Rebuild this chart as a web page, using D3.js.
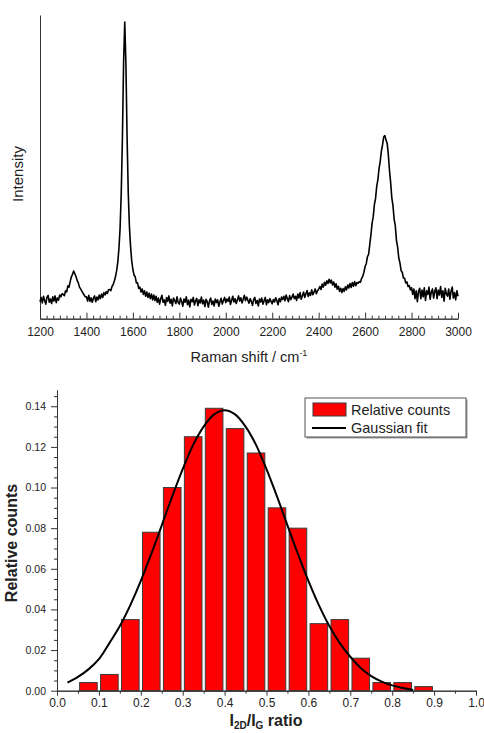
<!DOCTYPE html>
<html>
<head>
<meta charset="utf-8">
<title>Raman spectrum and I2D/IG histogram</title>
<script src="https://d3js.org/d3.v7.min.js" charset="utf-8"></script>
<style>
  body { margin: 0; background: #fff; }
  svg { display: block; font-family: "Liberation Sans", Arial, sans-serif; }
</style>
</head>
<body>
<svg id="chart" width="484" height="733"></svg>
<script type="text/javascript">
// Raman spectrum, one value every 5 cm-1 from 1200 to 3000 (arb. units)
var shiftStart = 1200;
var shiftStep = 5;
var intensity = [
  56, 70, 52, 74, 60, 48, 71, 77, 54, 65, 50, 72, 58, 75, 53, 68, 61, 78, 72, 82,
  80, 76, 92, 88, 108, 104, 122, 138, 146, 157, 148, 139, 126, 118, 104, 98, 91, 84, 78, 72,
  72, 58, 77, 57, 69, 54, 67, 75, 56, 71, 62, 78, 66, 81, 70, 86, 78, 89, 83, 95,
  96, 92, 106, 112, 124, 138, 158, 186, 232, 300, 418, 600, 845, 977, 836, 598, 416, 304, 238, 190,
  162, 144, 138, 118, 118, 100, 104, 88, 98, 80, 92, 74, 88, 70, 84, 66, 81, 62, 78, 60,
  74, 54, 68, 48, 66, 77, 54, 62, 44, 70, 57, 75, 51, 64, 42, 68, 60, 50, 72, 53,
  48, 68, 57, 41, 65, 54, 72, 46, 61, 39, 64, 56, 70, 45, 59, 67, 43, 62, 52, 71,
  49, 61, 40, 64, 56, 38, 59, 68, 47, 58, 42, 65, 53, 62, 41, 56, 67, 48, 60, 70,
  53, 65, 57, 71, 47, 60, 74, 55, 66, 50, 62, 75, 58, 69, 52, 64, 77, 59, 71, 61,
  51, 66, 57, 44, 63, 70, 50, 60, 42, 65, 55, 68, 48, 59, 70, 46, 62, 53, 66, 57,
  49, 63, 55, 69, 60, 46, 66, 56, 71, 63, 74, 59, 78, 66, 56, 76, 63, 71, 81, 66,
  74, 60, 81, 68, 86, 64, 76, 88, 70, 82, 93, 73, 85, 77, 95, 79, 88, 98, 82, 92,
  97, 106, 96, 114, 104, 120, 110, 125, 116, 130, 118, 127, 111, 121, 104, 115, 97, 107, 90, 100,
  86, 99, 90, 105, 95, 111, 101, 116, 103, 119, 107, 122, 109, 119, 117, 122, 120, 133, 140, 153,
  172, 181, 204, 212, 244, 276, 314, 336, 376, 396, 436, 458, 494, 518, 552, 572, 598, 603, 588, 578,
  540, 488, 448, 398, 372, 328, 306, 258, 236, 200, 184, 158, 153, 134, 133, 118, 121, 106, 109, 95,
  102, 80, 98, 66, 92, 56, 90, 100, 66, 94, 72, 102, 60, 92, 80, 104, 64, 88, 98, 68,
  90, 102, 66, 94, 78, 106, 70, 92, 58, 100, 82, 74, 98, 64, 90, 104, 68, 86, 62, 92,
  74
];
var shiftTicks = [1200, 1400, 1600, 1800, 2000, 2200, 2400, 2600, 2800, 3000];

// histogram of I2D/IG ratio
var binCenters = [0.075, 0.125, 0.175, 0.225, 0.275, 0.325, 0.375, 0.425, 0.475, 0.525, 0.575, 0.625, 0.675, 0.725, 0.775, 0.825, 0.875];
var relCounts = [0.004, 0.008, 0.035, 0.078, 0.100, 0.125, 0.139, 0.129, 0.117, 0.090, 0.080, 0.033, 0.035, 0.016, 0.004, 0.004, 0.002];

// gaussian fit
var fitX = [0.025, 0.05, 0.075, 0.1, 0.125, 0.15, 0.175, 0.2, 0.225, 0.25, 0.275, 0.3, 0.325, 0.35, 0.375, 0.4, 0.425,
            0.45, 0.475, 0.5, 0.525, 0.55, 0.575, 0.6, 0.625, 0.65, 0.675, 0.7, 0.725, 0.75, 0.775, 0.8, 0.825, 0.85];
var fitY = [0.0040, 0.0068, 0.0105, 0.0155, 0.0234, 0.0318, 0.0421, 0.0540, 0.0673, 0.0814, 0.0956, 0.1090, 0.1210, 0.1300, 0.1360, 0.1380, 0.1360,
            0.1300, 0.1210, 0.1090, 0.0956, 0.0814, 0.0673, 0.0540, 0.0421, 0.0318, 0.0234, 0.0167, 0.0112, 0.0072, 0.0045, 0.0026, 0.0013, 0.0004];

var ratioTicks = [0, 0.1, 0.2, 0.3, 0.4, 0.5, 0.6, 0.7, 0.8, 0.9, 1.0];
var countTicks = [0, 0.02, 0.04, 0.06, 0.08, 0.10, 0.12, 0.14];

var svg = d3.select('#chart');

function styleAxis(g, size) {
  g.attr('font-family', '"Liberation Sans", Arial, sans-serif').attr('font-size', size);
  g.selectAll('path, line').attr('stroke', '#333').attr('stroke-width', 1);
  g.selectAll('text').attr('fill', '#222');
}

// ---------------- top: spectrum
var x1 = d3.scaleLinear().domain([1200, 3000]).range([40, 458]);
var y1 = d3.scaleLinear().domain([0, 1000]).range([318.7, 15]);

var minorShift = [];
for (var i = 1; i < 63; i++) {
  if (i % 7 != 0) minorShift.push(1200 + i * 200 / 7);
}

svg.append('g').attr('transform', 'translate(0,318.7)')
  .call(d3.axisBottom(x1).tickValues(minorShift).tickSize(-3).tickSizeOuter(0).tickFormat(''))
  .call(styleAxis, 12);
svg.append('g').attr('transform', 'translate(0,318.7)')
  .call(d3.axisBottom(x1).tickValues(shiftTicks).tickSize(-6).tickSizeOuter(0).tickPadding(9).tickFormat(d3.format('d')))
  .call(styleAxis, 12);
svg.append('g').attr('transform', 'translate(40,0)')
  .call(d3.axisLeft(y1).tickValues([]).tickSizeOuter(0))
  .call(styleAxis, 12);

var line1 = d3.line()
  .x(function(d, i) { return x1(shiftStart + i * shiftStep); })
  .y(function(d) { return y1(d); });

svg.append('path').datum(intensity)
  .attr('d', line1)
  .attr('fill', 'none')
  .attr('stroke', '#000')
  .attr('stroke-width', 1.6)
  .attr('stroke-linejoin', 'round');

var xl1 = svg.append('text').attr('x', 249).attr('y', 361.5)
  .attr('text-anchor', 'middle').attr('font-size', 14.5).attr('fill', '#222');
xl1.append('tspan').text('Raman shift / cm');
xl1.append('tspan').attr('font-size', 9).attr('dy', -6).text('-1');

svg.append('text').attr('transform', 'translate(23,174) rotate(-90)')
  .attr('text-anchor', 'middle').attr('font-size', 15).attr('fill', '#222')
  .text('Intensity');

// ---------------- bottom: histogram
var x2 = d3.scaleLinear().domain([0, 1]).range([57, 476]);
var y2 = d3.scaleLinear().domain([0, 0.148]).range([690.7, 390]);
var barHalf = 0.021;

svg.append('g').selectAll('rect').data(relCounts).enter().append('rect')
  .attr('x', function(d, i) { return x2(binCenters[i] - barHalf); })
  .attr('width', function(d, i) { return x2(binCenters[i] + barHalf) - x2(binCenters[i] - barHalf); })
  .attr('y', function(d) { return y2(d); })
  .attr('height', function(d) { return y2(0) - y2(d); })
  .attr('fill', '#ff0000')
  .attr('stroke', '#3a3a3a')
  .attr('stroke-width', 1);

var minorRatio = d3.range(0.05, 1, 0.1);
var minorCount = [];
for (var j = 1; j < 30; j++) {
  if (j % 4 != 0) minorCount.push(j * 0.005);
}

svg.append('g').attr('transform', 'translate(0,690.7)')
  .call(d3.axisBottom(x2).tickValues(minorRatio).tickSize(3).tickSizeOuter(0).tickFormat(''))
  .call(styleAxis, 12);
svg.append('g').attr('transform', 'translate(0,690.7)')
  .call(d3.axisBottom(x2).tickValues(ratioTicks).tickSize(5).tickSizeOuter(0).tickPadding(3).tickFormat(d3.format('.1f')))
  .call(styleAxis, 12);
svg.append('g').attr('transform', 'translate(57,0)')
  .call(d3.axisLeft(y2).tickValues(minorCount).tickSize(3).tickSizeOuter(0).tickFormat(''))
  .call(styleAxis, 10.5);
svg.append('g').attr('transform', 'translate(57,0)')
  .call(d3.axisLeft(y2).tickValues(countTicks).tickSize(6).tickSizeOuter(0).tickPadding(5).tickFormat(d3.format('.2f')))
  .call(styleAxis, 10.5);

var fitLine = d3.line()
  .x(function(d, i) { return x2(fitX[i]); })
  .y(function(d) { return y2(d); })
  .curve(d3.curveCatmullRom);

svg.append('path').datum(fitY)
  .attr('d', fitLine)
  .attr('fill', 'none')
  .attr('stroke', '#000')
  .attr('stroke-width', 2);

// legend
var leg = svg.append('g');
leg.append('rect').attr('x', 306.5).attr('y', 399.5).attr('width', 161).attr('height', 39).attr('fill', '#999');
leg.append('rect').attr('x', 305).attr('y', 398).attr('width', 161).attr('height', 39)
  .attr('fill', '#fff').attr('stroke', '#555').attr('stroke-width', 1);
leg.append('rect').attr('x', 313).attr('y', 403).attr('width', 33).attr('height', 13)
  .attr('fill', '#ff0000').attr('stroke', '#3a3a3a').attr('stroke-width', 1);
leg.append('line').attr('x1', 312).attr('x2', 346).attr('y1', 428).attr('y2', 428)
  .attr('stroke', '#000').attr('stroke-width', 2);
leg.append('text').attr('x', 351).attr('y', 414.5).attr('font-size', 14.5).attr('fill', '#222').text('Relative counts');
leg.append('text').attr('x', 351).attr('y', 433).attr('font-size', 14.5).attr('fill', '#222').text('Gaussian fit');

// axis titles
svg.append('text').attr('transform', 'translate(17,543) rotate(-90)')
  .attr('text-anchor', 'middle').attr('font-size', 16).attr('font-weight', 'bold').attr('fill', '#222')
  .text('Relative counts');

var xl2 = svg.append('text').attr('x', 266).attr('y', 726)
  .attr('text-anchor', 'middle').attr('font-size', 16).attr('font-weight', 'bold').attr('fill', '#222');
xl2.append('tspan').text('I');
xl2.append('tspan').attr('font-size', 10).attr('dy', 3).text('2D');
xl2.append('tspan').attr('dy', -3).text('/I');
xl2.append('tspan').attr('font-size', 10).attr('dy', 3).text('G');
xl2.append('tspan').attr('dy', -3).text(' ratio');
</script>
</body>
</html>
